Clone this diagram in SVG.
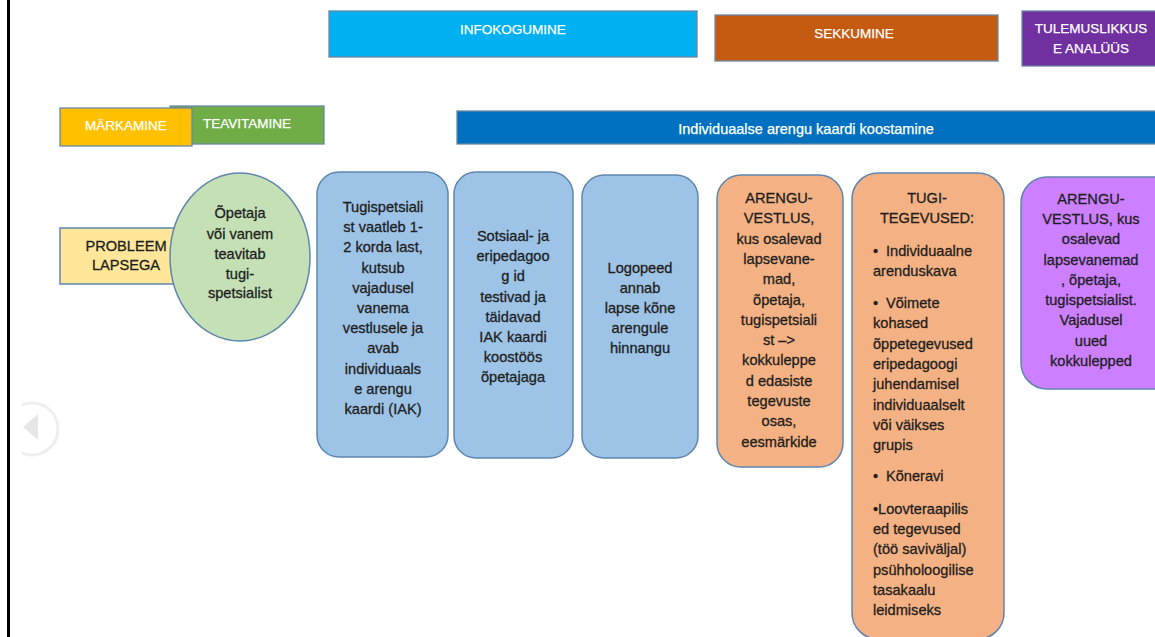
<svg xmlns="http://www.w3.org/2000/svg" width="1155" height="637" viewBox="0 0 1155 637">
<defs>
<style>
.hd{stroke:#6a87a8;stroke-width:1.3}
.bx{stroke:#5f86b0;stroke-width:1.5}
.ht{font-family:"Liberation Sans",Arial,sans-serif;font-size:13.5px;fill:#ffffff;stroke:#ffffff;stroke-width:0.25;text-anchor:middle}
.t{font-family:"Liberation Sans",Arial,sans-serif;font-size:14.6px;fill:#1e1e1e;stroke:#1e1e1e;stroke-width:0.3;text-anchor:middle}
.tl{font-family:"Liberation Sans",Arial,sans-serif;font-size:14.6px;fill:#1e1e1e;stroke:#1e1e1e;stroke-width:0.3;text-anchor:start}
</style>
<clipPath id="iconclip"><rect x="22" y="390" width="60" height="80"/></clipPath>
</defs>
<rect x="0" y="0" width="1155" height="637" fill="#ffffff"/>
<rect x="7" y="0" width="3" height="637" fill="#000000"/>

<g id="back-icon" clip-path="url(#iconclip)">
<circle cx="32" cy="429" r="26" fill="none" stroke="#eeeeee" stroke-width="3"/>
<polygon points="23,427 38,414 38,440" fill="#e6e6e6"/>
</g>

<g id="infokogumine">
<rect class="hd" x="329" y="11" width="368" height="46" fill="#00B0F0"/>
<text class="ht" x="513" y="34">INFOKOGUMINE</text>
</g>
<g id="sekkumine">
<rect class="hd" x="715" y="15" width="283" height="46" fill="#C55A11"/>
<text class="ht" x="854" y="38">SEKKUMINE</text>
</g>
<g id="tulemuslikkus">
<rect class="hd" x="1022" y="11" width="140" height="55" fill="#7030A0"/>
<text class="ht" x="1091" y="33">TULEMUSLIKKUS</text>
<text class="ht" x="1091" y="53">E ANALÜÜS</text>
</g>
<g id="iak-bar">
<rect class="hd" x="457" y="111" width="705" height="33" fill="#0070C0"/>
<text class="ht" x="806" y="134" style="font-size:14.5px">Individuaalse arengu kaardi koostamine</text>
</g>
<g id="teavitamine">
<rect class="hd" x="170" y="106" width="154" height="38" fill="#70AD47"/>
<text class="ht" x="247" y="128">TEAVITAMINE</text>
</g>
<g id="markamine">
<rect class="hd" x="60" y="108" width="132" height="38" fill="#FFC000"/>
<text class="ht" x="126" y="130">MÄRKAMINE</text>
</g>

<g id="probleem">
<rect class="bx" x="60" y="228" width="125" height="56" fill="#FFE699"/>
<text class="t" x="126" y="251">PROBLEEM</text>
<text class="t" x="126" y="270">LAPSEGA</text>
</g>
<g id="opetaja">
<ellipse class="bx" cx="240" cy="257" rx="70" ry="84" fill="#C5E0B4"/>
<text class="t" x="240" y="218">Õpetaja</text>
<text class="t" x="240" y="239">või vanem</text>
<text class="t" x="240" y="259">teavitab</text>
<text class="t" x="240" y="279">tugi-</text>
<text class="t" x="240" y="298">spetsialist</text>
</g>

<g id="tugispetsialist">
<rect class="bx" x="317" y="172" width="131" height="285" rx="22" fill="#9DC3E6"/>
<text class="t" x="383" y="212">Tugispetsiali</text>
<text class="t" x="383" y="232">st vaatleb 1-</text>
<text class="t" x="383" y="252">2 korda last,</text>
<text class="t" x="383" y="273">kutsub</text>
<text class="t" x="383" y="293">vajadusel</text>
<text class="t" x="383" y="313">vanema</text>
<text class="t" x="383" y="333">vestlusele ja</text>
<text class="t" x="383" y="353">avab</text>
<text class="t" x="383" y="374">individuaals</text>
<text class="t" x="383" y="394">e arengu</text>
<text class="t" x="383" y="414">kaardi (IAK)</text>
</g>
<g id="sotsiaal">
<rect class="bx" x="454" y="172" width="119" height="286" rx="22" fill="#9DC3E6"/>
<text class="t" x="513" y="241">Sotsiaal- ja</text>
<text class="t" x="513" y="261">eripedagoo</text>
<text class="t" x="513" y="281">g id</text>
<text class="t" x="513" y="302">testivad ja</text>
<text class="t" x="513" y="322">täidavad</text>
<text class="t" x="513" y="342">IAK kaardi</text>
<text class="t" x="513" y="362">koostöös</text>
<text class="t" x="513" y="382">õpetajaga</text>
</g>
<g id="logopeed">
<rect class="bx" x="582" y="175" width="116" height="283" rx="22" fill="#9DC3E6"/>
<text class="t" x="640" y="273">Logopeed</text>
<text class="t" x="640" y="293">annab</text>
<text class="t" x="640" y="313">lapse kõne</text>
<text class="t" x="640" y="333">arengule</text>
<text class="t" x="640" y="353">hinnangu</text>
</g>

<g id="arenguvestlus1">
<rect class="bx" x="717" y="175" width="126" height="292" rx="24" fill="#F4B183"/>
<text class="t" x="779" y="203">ARENGU-</text>
<text class="t" x="779" y="223">VESTLUS,</text>
<text class="t" x="779" y="244">kus osalevad</text>
<text class="t" x="779" y="264">lapsevane-</text>
<text class="t" x="779" y="284">mad,</text>
<text class="t" x="779" y="305">õpetaja,</text>
<text class="t" x="779" y="325">tugispetsiali</text>
<text class="t" x="779" y="345">st –&gt;</text>
<text class="t" x="779" y="365">kokkuleppe</text>
<text class="t" x="779" y="386">d edasiste</text>
<text class="t" x="779" y="406">tegevuste</text>
<text class="t" x="779" y="426">osas,</text>
<text class="t" x="779" y="447">eesmärkide</text>
</g>

<g id="tugitegevused">
<rect class="bx" x="852" y="173" width="152" height="466" rx="26" fill="#F4B183"/>
<text class="t" x="927" y="203">TUGI-</text>
<text class="t" x="927" y="223">TEGEVUSED:</text>
<text class="tl" x="873" y="256">•</text>
<text class="tl" x="886" y="256">Individuaalne</text>
<text class="tl" x="873" y="276">arenduskava</text>
<text class="tl" x="873" y="308">•</text>
<text class="tl" x="886" y="308">Võimete</text>
<text class="tl" x="873" y="328">kohased</text>
<text class="tl" x="873" y="349">õppetegevused</text>
<text class="tl" x="873" y="369">eripedagoogi</text>
<text class="tl" x="873" y="389">juhendamisel</text>
<text class="tl" x="873" y="410">individuaalselt</text>
<text class="tl" x="873" y="430">või väikses</text>
<text class="tl" x="873" y="450">grupis</text>
<text class="tl" x="873" y="481">•</text>
<text class="tl" x="886" y="481">Kõneravi</text>
<text class="tl" x="873" y="514">•Loovteraapilis</text>
<text class="tl" x="873" y="534">ed tegevused</text>
<text class="tl" x="873" y="554">(töö saviväljal)</text>
<text class="tl" x="873" y="575">psühholoogilise</text>
<text class="tl" x="873" y="595">tasakaalu</text>
<text class="tl" x="873" y="615">leidmiseks</text>
</g>

<g id="arenguvestlus2">
<rect class="bx" x="1021" y="177" width="160" height="212" rx="26" fill="#CC80FF"/>
<text class="t" x="1091" y="204">ARENGU-</text>
<text class="t" x="1091" y="224">VESTLUS, kus</text>
<text class="t" x="1091" y="244">osalevad</text>
<text class="t" x="1091" y="265">lapsevanemad</text>
<text class="t" x="1091" y="285">, õpetaja,</text>
<text class="t" x="1091" y="305">tugispetsialist.</text>
<text class="t" x="1091" y="325">Vajadusel</text>
<text class="t" x="1091" y="346">uued</text>
<text class="t" x="1091" y="366">kokkulepped</text>
</g>

<g id="connectors"></g>
</svg>
